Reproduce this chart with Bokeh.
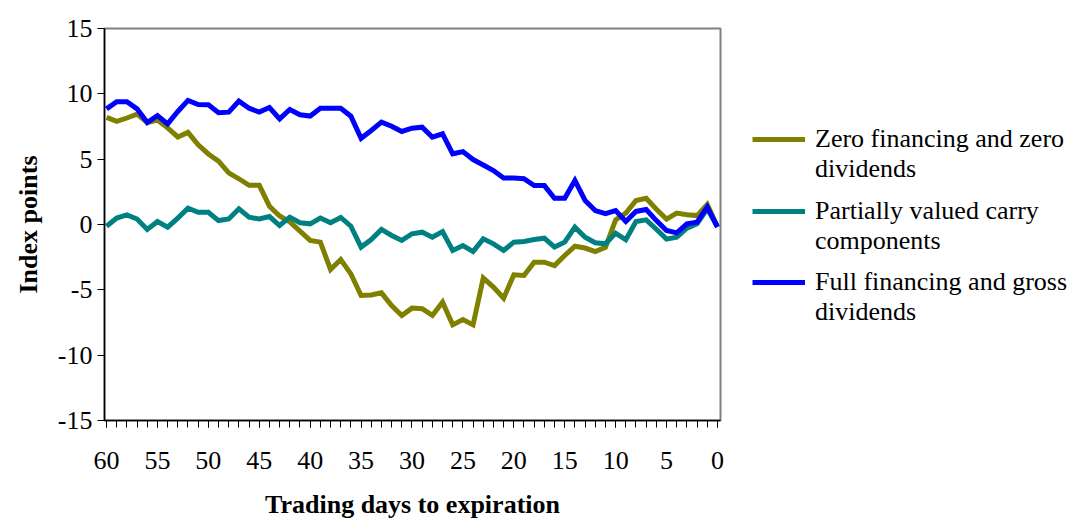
from bokeh.plotting import figure
from bokeh.models import Range1d, FixedTicker, Legend, LegendItem
from bokeh.layouts import row
from bokeh.embed import file_html
from bokeh.resources import INLINE

# Trading days to expiration (60 down to 0)
days = list(range(60, -1, -1))

zero_financing = [8.2, 7.9, 8.15, 8.45, 7.8, 8.0, 7.4, 6.7, 7.05, 6.1,
                  5.4, 4.85, 3.95, 3.5, 3.0, 3.0, 1.4, 0.65, 0.2, -0.5,
                  -1.22, -1.35, -3.44, -2.68, -3.78, -5.43, -5.4, -5.23, -6.2, -6.96,
                  -6.4, -6.45, -6.96, -5.94, -7.68, -7.27, -7.68, -4.1, -4.79, -5.64,
                  -3.85, -3.9, -2.88, -2.88, -3.14, -2.37, -1.66, -1.8, -2.07, -1.75,
                  0.36, 0.87, 1.84, 2.01, 1.17, 0.41, 0.87, 0.74, 0.68, 1.53, -0.15]

partial_carry = [-0.13, 0.49, 0.74, 0.42, -0.38, 0.23, -0.2, 0.49, 1.25, 0.94,
                 0.94, 0.3, 0.42, 1.2, 0.56, 0.42, 0.61, -0.08, 0.56, 0.13,
                 0.05, 0.49, 0.13, 0.54, -0.13, -1.73, -1.15, -0.38, -0.84, -1.22,
                 -0.71, -0.59, -0.97, -0.54, -1.99, -1.61, -2.07, -1.1, -1.48, -1.99,
                 -1.35, -1.3, -1.15, -1.05, -1.73, -1.35, -0.2, -0.97, -1.4, -1.48,
                 -0.66, -1.17, 0.23, 0.36, -0.36, -1.12, -0.97, -0.28, 0.05, 1.2, -0.15]

full_financing = [8.85, 9.4, 9.4, 8.85, 7.8, 8.34, 7.7, 8.65, 9.5, 9.18,
                  9.16, 8.55, 8.6, 9.44, 8.9, 8.6, 8.95, 8.08, 8.8, 8.4,
                  8.3, 8.9, 8.9, 8.9, 8.29, 6.6, 7.19, 7.83, 7.52, 7.12,
                  7.37, 7.45, 6.68, 6.94, 5.41, 5.58, 4.97, 4.56, 4.13, 3.55,
                  3.55, 3.5, 2.98, 2.98, 2.01, 2.01, 3.37, 1.84, 1.07, 0.83,
                  1.07, 0.23, 1.0, 1.15, 0.3, -0.46, -0.64, 0.05, 0.18, 1.35, -0.2]

# legend text: (first line, second line)
series_labels = [("Zero financing and zero", "dividends"),
                 ("Partially valued carry", "components"),
                 ("Full financing and gross", "dividends")]
series_colors = ["#808000", "#008080", "#0000FF"]

x_major = list(range(0, 61, 5))
x_minor = list(range(0, 61))
y_major = [-15, -10, -5, 0, 5, 10, 15]

FONT = "Liberation Serif"
LW = 5
all_series = [zero_financing, partial_carry, full_financing]

p = figure(frame_width=616, frame_height=392, output_backend="svg", toolbar_location=None,
           x_range=Range1d(60.2, -0.3), y_range=Range1d(-15, 15),
           min_border_left=104, min_border_right=5, min_border_top=28,
           min_border_bottom=5)

p.background_fill_color = "white"
p.border_fill_color = "white"
p.outline_line_color = "#808080"
p.outline_line_width = 2
p.xgrid.visible = False
p.ygrid.visible = False

for ys, col in zip(all_series, series_colors):
    p.line(days, ys, line_color=col, line_width=LW, line_join="miter")

# axes
p.xaxis.ticker = FixedTicker(ticks=x_major, minor_ticks=x_minor)
p.yaxis.ticker = FixedTicker(ticks=y_major, minor_ticks=[])
p.yaxis.major_label_overrides = {v: str(v) for v in y_major}
p.xaxis.major_label_overrides = {v: str(v) for v in x_major}
for ax in (p.xaxis, p.yaxis):
    ax.axis_line_color = "black"
    ax.axis_line_width = 1.5
    ax.major_tick_line_color = "black"
    ax.minor_tick_line_color = "black"
    ax.major_tick_in = 0
    ax.minor_tick_in = 0
    ax.major_label_text_font = FONT
    ax.major_label_text_font_size = "26px"
    ax.major_label_text_color = "black"
    ax.axis_label_text_font = FONT
    ax.axis_label_text_font_size = "26px"
    ax.axis_label_text_font_style = "bold"
    ax.axis_label_text_color = "black"

p.xaxis.major_tick_out = 7
p.xaxis.minor_tick_out = 7
p.xaxis.major_label_standoff = 24
p.xaxis.axis_label = "Trading days to expiration"
p.xaxis.axis_label_standoff = 18

p.yaxis.major_tick_out = 7
p.yaxis.minor_tick_out = 0
p.yaxis.major_label_standoff = 5
p.yaxis.axis_label = "Index points"
p.yaxis.axis_label_standoff = 12

# legend panel to the right of the chart (its ranges keep the key lines out of view)
q = figure(frame_width=344, frame_height=392, output_backend="svg", toolbar_location=None,
           x_axis_location=None, y_axis_location=None,
           x_range=Range1d(-200, -199), y_range=Range1d(-200, -199),
           min_border_left=0, min_border_right=0, min_border_top=28, min_border_bottom=0)
q.outline_line_color = None
q.xgrid.visible = False
q.ygrid.visible = False
q.background_fill_color = "white"
q.border_fill_color = "white"

blank = q.line(days, zero_financing, line_alpha=0)
legend_y = [236, 164, 93]
for (l1, l2), ys, col, ly in zip(series_labels, all_series, series_colors, legend_y):
    key = q.line(days, ys, line_color=col, line_width=LW)
    items = [LegendItem(label=l1, renderers=[key]), LegendItem(label=l2, renderers=[blank])]
    lg = Legend(items=items, location=(27, ly))
    lg.border_line_color = None
    lg.background_fill_alpha = 0
    lg.label_text_font = FONT
    lg.label_text_font_size = "26px"
    lg.label_text_color = "black"
    lg.glyph_width = 53
    lg.glyph_height = 20
    lg.label_height = 30
    lg.label_standoff = 10
    lg.spacing = 0
    lg.padding = 0
    lg.margin = 0
    lg.inactive_fill_alpha = 0
    q.add_layout(lg, "center")

layout = row(p, q)
open("out.html", "w").write(file_html(layout, INLINE))
